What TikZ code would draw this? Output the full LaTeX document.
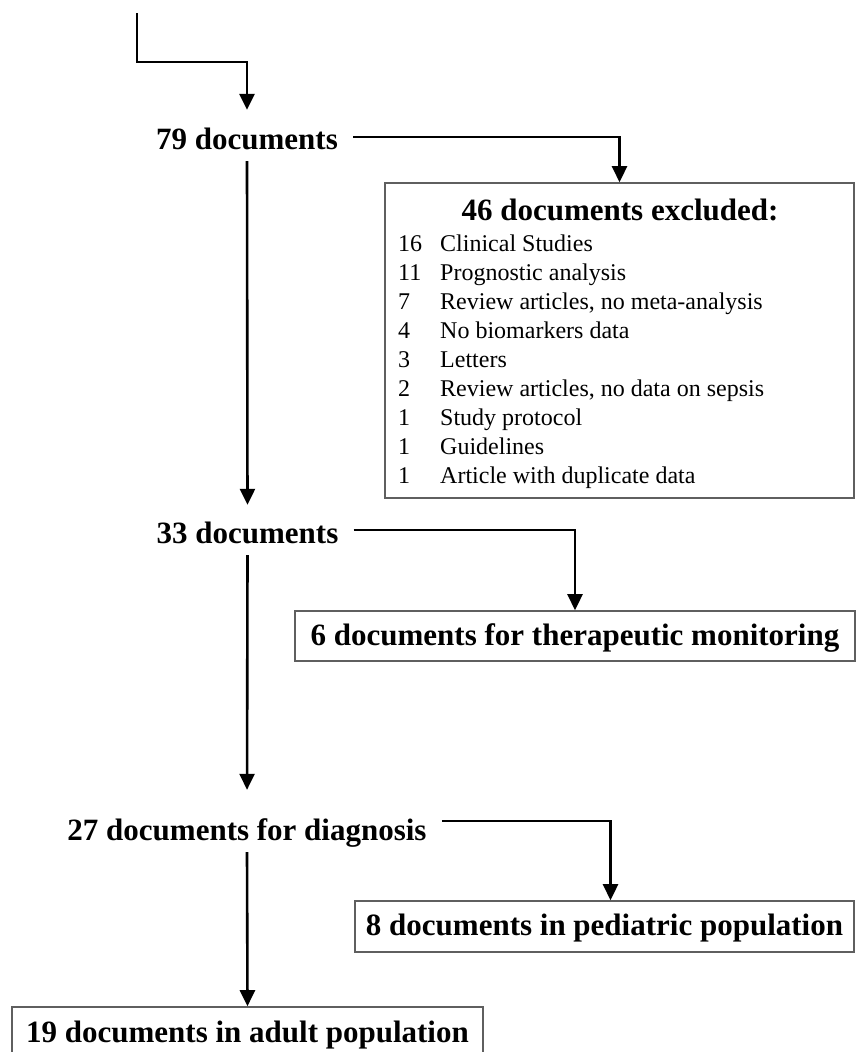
\documentclass[tikz,border=0pt]{standalone}
\usepackage{fontspec}
\setmainfont{Liberation Serif}
\usetikzlibrary{arrows.meta,positioning,calc}
\definecolor{BoxGray}{RGB}{95,95,95}
\newcommand{\headfont}{\fontsize{31}{36}\selectfont\bfseries}
\newcommand{\listfont}{\fontsize{24}{29}\selectfont}

\begin{document}
\begin{tikzpicture}[x=1pt, y=-1pt,
    flow/.style={-{Triangle[length=16pt,width=15pt]}, line width=2.6pt},
    stage/.style={font=\headfont, inner xsep=15pt, inner ysep=6pt, text height=24pt, text depth=6pt},
    outbox/.style={stage, draw=BoxGray, line width=1.6pt, inner sep=0pt},
    item/.style={font=\listfont, anchor=base west, inner sep=0pt}]
  \useasboundingbox (0,0) rectangle (856,1052);
  \clip (0,0) rectangle (856,1052);

  % main column
  \coordinate (src) at (137,13);
  \coordinate (bend) at (137,62);
  \node[stage] (n79) at (247,140) {79 documents};
  \node[stage] (n33) at (247.5,534) {33 documents};
  \node[stage] (n27) at (247,831) {27 documents for diagnosis};
  \node[outbox, minimum width=471pt, minimum height=52pt] (box19) at (247.5,1033) {19 documents in adult population};

  % excluded boxes
  \node[draw=BoxGray, line width=1.6pt, minimum width=469pt, minimum height=315pt, inner sep=0pt] (box46) at (619.5,340.5) {};
  \node[font=\headfont, anchor=base, inner sep=0pt] (excl) at (620,220) {46 documents excluded:};
  \foreach \num/\why [count=\i from 0] in {16/Clinical Studies, 11/Prognostic analysis,
      7/{Review articles, no meta-analysis}, 4/No biomarkers data, 3/Letters,
      2/{Review articles, no data on sepsis}, 1/Study protocol, 1/Guidelines,
      1/Article with duplicate data} {
    \node[item] (num\i) at (398,251+29*\i) {\num};
    \node[item] (why\i) at (440,251+29*\i) {\why};
  }
  \node[outbox, minimum width=560pt, minimum height=50pt] (box6) at (575,636) {6 documents for therapeutic monitoring};
  \node[outbox, minimum width=499pt, minimum height=51pt] (box8) at (604.5,926.5) {8 documents in pediatric population};

  % arrows
  \draw[flow, shorten >=9pt] (src) -- (bend) -| (n79.north);
  \draw[flow, shorten >=8pt] (n79.south) -- (n33.north);
  \draw[flow, shorten >=20pt] (n33.south) -- (n27.north);
  \draw[flow] (n27.south) -- (box19.north);
  \draw[flow] ([yshift=3pt]n79.east) -| (box46.north);
  \draw[flow] ([yshift=4pt]n33.east) -| (box6.north);
  \draw[flow] ([yshift=10pt]n27.east) -| ([xshift=6pt]box8.north);
\end{tikzpicture}
\end{document}
